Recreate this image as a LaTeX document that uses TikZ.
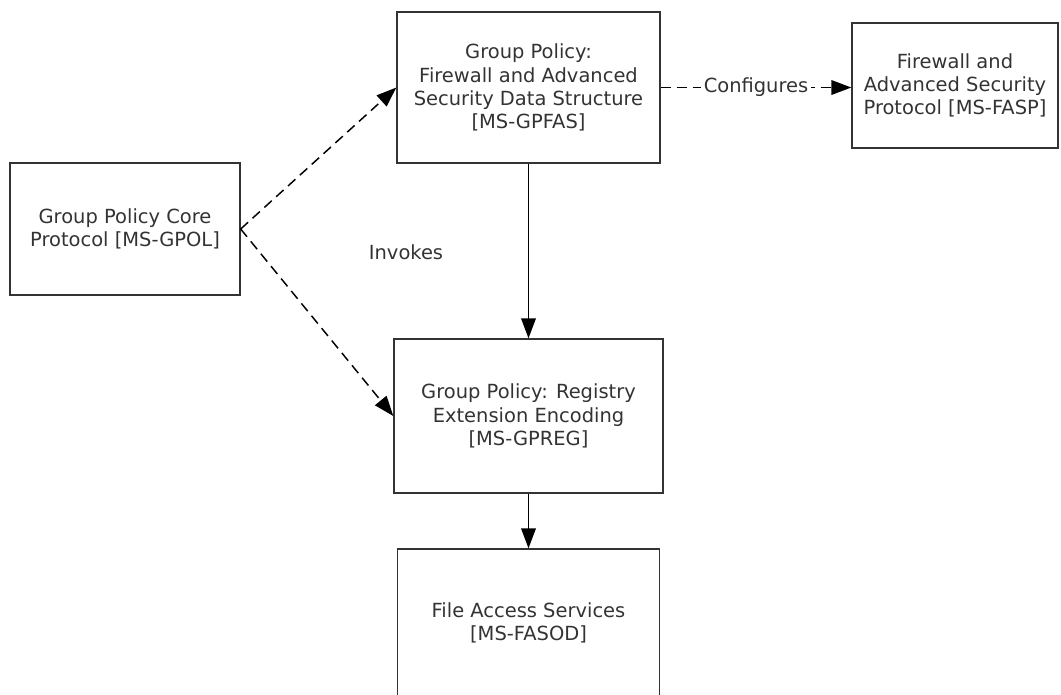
\documentclass[tikz,border=0pt]{standalone}
\usepackage{fontspec}
\setmainfont{DejaVu Sans}
\usetikzlibrary{arrows.meta}

\begin{document}
\begin{tikzpicture}[x=0.75pt,y=-0.75pt,
  txt/.style={text=black!80, font=\fontsize{14.6}{17.4}\selectfont},
  box/.style={txt, draw=black!80, line width=1pt, align=center, inner sep=0pt},
  link/.style={line width=1.1pt, draw=black, -{Triangle[length=15pt,width=11pt]}},
  dashlink/.style={link, dash pattern=on 7.5pt off 4.5pt}]
\useasboundingbox (0,0) rectangle (1061,694);

% Boxes
\node[box, minimum width=172.5pt, minimum height=99pt] (gpol) at (125,229)
  {Group Policy Core\\Protocol [MS-GPOL]};
\node[box, minimum width=197.25pt, minimum height=113.25pt] (gpfas) at (528.5,87.5)
  {Group Policy:\\Firewall and Advanced\\Security Data Structure\\{}[MS-GPFAS]};
\node[box, minimum width=154.5pt, minimum height=93.75pt] (fasp) at (955,85.5)
  {Firewall and\\Advanced Security\\Protocol [MS-FASP]};
\node[box, minimum width=201.75pt, minimum height=115.5pt] (gpreg) at (528.5,416)
  {Group Policy: Registry\\Extension Encoding\\{}[MS-GPREG]};
\node[box, minimum width=196.5pt, minimum height=111pt] (fasod) at (528.5,623)
  {File Access Services\\{}[MS-FASOD]};

% Free label
\node[txt] (invokes) at (406,252) {Invokes};

% Connectors
\draw[dashlink] (gpol.east) -- (gpfas.west);
\draw[dashlink] (gpol.east) -- (gpreg.west);
\draw[link] (gpfas.south) -- (gpreg.north);
\draw[link] (gpreg.south) -- (fasod.north);
\draw[dashlink] (gpfas.east) -- (gpfas.east -| fasp.west)
  node[txt, midway, fill=white, inner sep=2pt] {Configures};

\end{tikzpicture}
\end{document}
